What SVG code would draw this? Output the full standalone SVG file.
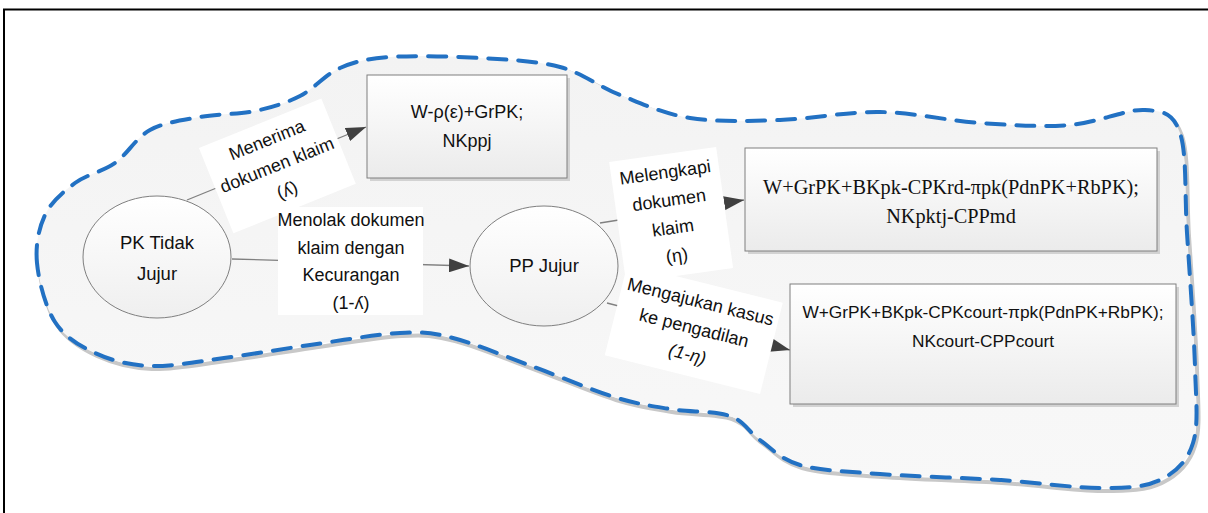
<svg xmlns="http://www.w3.org/2000/svg" width="1208" height="513" viewBox="0 0 1208 513">
  <defs>
    <style>
      .lbl { font-family: "Liberation Sans", Arial, sans-serif; font-size: 18px; fill: #111; text-anchor: middle; }
      .node-txt { font-family: "Liberation Sans", Arial, sans-serif; font-size: 18.5px; fill: #111; text-anchor: middle; }
      .box-txt { font-family: "Liberation Sans", Arial, sans-serif; font-size: 18px; fill: #111; text-anchor: middle; }
      .serif-txt { font-family: "Liberation Serif", "Times New Roman", serif; font-size: 20.3px; fill: #111; text-anchor: middle; }
      .conn { fill: none; stroke: #808080; stroke-width: 1.3; marker-end: url(#arrow); }
      .lbl-bg { fill: #ffffff; }
      .box { fill: url(#boxFill); stroke: #7f7f7f; stroke-width: 1; }
      .box-shadow { fill: #d2d2d2; }
      .ell { fill: url(#ellFill); stroke: #7f7f7f; stroke-width: 1; }
    </style>
    <linearGradient id="boxFill" x1="0" y1="0" x2="0" y2="1">
      <stop offset="0" stop-color="#ffffff"/>
      <stop offset="1" stop-color="#ebebeb"/>
    </linearGradient>
    <linearGradient id="ellFill" x1="0" y1="0" x2="0" y2="1">
      <stop offset="0" stop-color="#ffffff"/>
      <stop offset="1" stop-color="#efefef"/>
    </linearGradient>
    <linearGradient id="cloudFill" x1="0" y1="0" x2="0" y2="1">
      <stop offset="0" stop-color="#f3f3f3"/>
      <stop offset="1" stop-color="#f8f8f8"/>
    </linearGradient>
    <marker id="arrow" markerUnits="userSpaceOnUse" markerWidth="20" markerHeight="14" viewBox="0 0 20 14" refX="20" refY="7" orient="auto">
      <path d="M0,0 L20,7 L0,14 z" fill="#404040"/>
    </marker>
    <path id="cloudPath" d="M37,263 C35.3,245.2 38.7,228.3 45,215 C51.3,201.7 63.3,191.7 75,183 C86.7,174.3 102.5,171.8 115,163 C127.5,154.2 135.8,137.7 150,130 C164.2,122.3 182.5,120.2 200,117 C217.5,113.8 238.3,114.5 255,111 C271.7,107.5 285.8,103.2 300,96 C314.2,88.8 325,74.5 340,68 C355,61.5 366.7,58.7 390,57 C413.3,55.3 451.7,56.3 480,58 C508.3,59.7 536.7,60.8 560,67 C583.3,73.2 598.3,86.5 620,95 C641.7,103.5 663.3,113.8 690,118 C716.7,122.2 748.3,121 780,120 C811.7,119 846.7,111.5 880,112 C913.3,112.5 948.3,120.8 980,123 C1011.7,125.2 1042.5,127.2 1070,125 C1097.5,122.8 1126.7,108.7 1145,110 C1163.3,111.3 1173,112.5 1180,133 C1187,153.5 1184.5,194 1187,233 C1189.5,272 1194,332 1195,367 C1196,402 1198.8,424.2 1193,443 C1187.2,461.8 1175.5,472.5 1160,480 C1144.5,487.5 1126.7,488 1100,488 C1073.3,488 1036.7,482.3 1000,480 C963.3,477.7 913.3,476.5 880,474 C846.7,471.5 820,470.7 800,465 C780,459.3 771.7,448.2 760,440 C748.3,431.8 745,421.2 730,416 C715,410.8 689.3,412.2 670,409 C650.7,405.8 636.7,404 614,397 C591.3,390 560.8,376.8 534,367 C507.2,357.2 475.3,343.7 453,338 C430.7,332.3 423.8,331.8 400,333 C376.2,334.2 339.3,340.8 310,345 C280.7,349.2 250.7,354.5 224,358 C197.3,361.5 171.5,366.8 150,366 C128.5,365.2 110.8,360.3 95,353 C79.2,345.7 64.7,337 55,322 C45.3,307 38.7,280.8 37,263 Z"/>
  </defs>

  <rect width="1208" height="513" fill="#ffffff"/>
  <!-- page frame (right and bottom edges fall outside the canvas) -->
  <rect x="4" y="9.5" width="1212" height="512" fill="none" stroke="#000000" stroke-width="2"/>

  <!-- dashed boundary region -->
  <g id="boundary">
    <use href="#cloudPath" transform="translate(2,3)" fill="none" stroke="#c8c8c8" stroke-width="4"/>
    <use href="#cloudPath" fill="url(#cloudFill)" stroke="none"/>
    <use href="#cloudPath" fill="none" stroke="#2271c3" stroke-width="4" stroke-dasharray="18 12" stroke-linecap="round"/>
  </g>

  <!-- connectors and their labels -->
  <g id="connectors">
    <line class="conn" x1="187" y1="200" x2="366" y2="127"/>
    <line class="conn" x1="232" y1="259" x2="469" y2="266"/>
    <line class="conn" x1="600" y1="223" x2="744" y2="200"/>
    <line class="conn" x1="607" y1="303" x2="790" y2="350"/>

    <g id="label-menerima" transform="translate(277,165) rotate(-22)">
      <rect class="lbl-bg" x="-66" y="-45" width="132" height="92"/>
      <text class="lbl" x="0" y="-21">Menerima</text>
      <text class="lbl" x="0" y="6">dokumen klaim</text>
      <text class="lbl" x="0" y="33">(ʎ)</text>
    </g>

    <g id="label-menolak">
      <rect class="lbl-bg" x="278" y="207" width="145" height="108"/>
      <text class="lbl" x="351" y="226">Menolak dokumen</text>
      <text class="lbl" x="351" y="253.5">klaim dengan</text>
      <text class="lbl" x="351" y="281">Kecurangan</text>
      <text class="lbl" x="351" y="308.5">(1-ʎ)</text>
    </g>

    <g id="label-melengkapi" transform="translate(671,214) rotate(-8)">
      <rect class="lbl-bg" x="-54" y="-60" width="108" height="122"/>
      <text class="lbl" x="0" y="-36">Melengkapi</text>
      <text class="lbl" x="0" y="-8">dokumen</text>
      <text class="lbl" x="0" y="20">klaim</text>
      <text class="lbl" x="0" y="48">(η)</text>
    </g>

    <g id="label-mengajukan" transform="translate(694,328) rotate(14)">
      <rect class="lbl-bg" x="-80" y="-46" width="160" height="94"/>
      <text class="lbl" x="0" y="-21">Mengajukan kasus</text>
      <text class="lbl" x="0" y="6">ke pengadilan</text>
      <text class="lbl" x="0" y="33" font-style="italic">(1-η)</text>
    </g>
  </g>

  <!-- nodes -->
  <g id="node-pk-tidak-jujur">
    <ellipse class="ell" cx="157" cy="257" rx="74" ry="61"/>
    <text class="node-txt" x="157" y="249">PK Tidak</text>
    <text class="node-txt" x="157" y="280">Jujur</text>
  </g>

  <g id="node-pp-jujur">
    <ellipse class="ell" cx="544" cy="266" rx="74" ry="60"/>
    <text class="node-txt" x="544" y="272">PP Jujur</text>
  </g>

  <g id="node-payoff-accept">
    <rect class="box-shadow" x="370" y="78" width="200" height="103"/>
    <rect class="box" x="367" y="75" width="200" height="103"/>
    <text class="box-txt" x="467" y="118">W-ρ(ε)+GrPK;</text>
    <text class="box-txt" x="467" y="147">NKppj</text>
  </g>

  <g id="node-payoff-complete">
    <rect class="box-shadow" x="748" y="151" width="412" height="103"/>
    <rect class="box" x="745" y="148" width="412" height="103"/>
    <text class="serif-txt" x="951" y="194">W+GrPK+BKpk-CPKrd-πpk(PdnPK+RbPK);</text>
    <text class="serif-txt" x="951" y="223">NKpktj-CPPmd</text>
  </g>

  <g id="node-payoff-court">
    <rect class="box-shadow" x="793" y="287" width="386" height="120"/>
    <rect class="box" x="790" y="284" width="386" height="120"/>
    <text class="box-txt" x="983" y="318" style="font-size:17.3px">W+GrPK+BKpk-CPKcourt-πpk(PdnPK+RbPK);</text>
    <text class="box-txt" x="983" y="347" style="font-size:17.3px">NKcourt-CPPcourt</text>
  </g>
</svg>
